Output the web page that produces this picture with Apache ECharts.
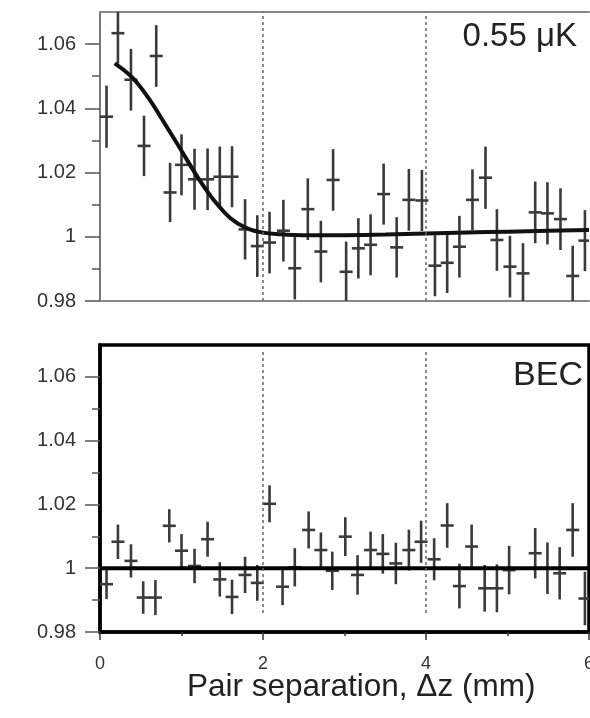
<!DOCTYPE html>
<html>
<head>
<meta charset="utf-8">
<script src="https://cdn.jsdelivr.net/npm/echarts@6/dist/echarts.min.js"></script>
<style>
  html, body { margin: 0; padding: 0; background: #fff; }
  #chart { width: 590px; height: 718px; }
</style>
</head>
<body>
<div id="chart"></div>
<script>
// top panel (0.55 uK): pair separation (mm), correlation, error
const topX = [0.08, 0.22, 0.38, 0.54, 0.69, 0.86, 1.00, 1.16, 1.32, 1.47, 1.62, 1.78, 1.93,
  2.08, 2.25, 2.39, 2.55, 2.71, 2.86, 3.02, 3.17, 3.32, 3.48, 3.64, 3.79, 3.95,
  4.11, 4.26, 4.41, 4.57, 4.73, 4.87, 5.03, 5.19, 5.34, 5.49, 5.65, 5.80, 5.95];
const topY = [1.0374, 1.0634, 1.0489, 1.0283, 1.0563, 1.0138, 1.0224, 1.0179, 1.0179, 1.0187, 1.0187, 1.0023, 0.9971,
  0.9982, 1.0019, 0.9902, 1.0086, 0.9954, 1.0177, 0.9891, 0.9964, 0.9975, 1.0133, 0.9967, 1.0115, 1.0113,
  0.9910, 0.9919, 0.9969, 1.0115, 1.0184, 0.9990, 0.9907, 0.9886, 1.0076, 1.0073, 1.0055, 0.9878, 0.9988];
const topErr = [0.0097, 0.0095, 0.0096, 0.0094, 0.0096, 0.0092, 0.0095, 0.0095, 0.0096, 0.0094, 0.0095, 0.0094, 0.0096,
  0.0096, 0.0096, 0.0097, 0.0096, 0.0096, 0.0096, 0.0094, 0.0094, 0.0095, 0.0095, 0.0094, 0.0096, 0.0095,
  0.0095, 0.0094, 0.0096, 0.0095, 0.0097, 0.0096, 0.0096, 0.0094, 0.0096, 0.0097, 0.0096, 0.0094, 0.0095];

// fitted curve, top panel
const fitX = [0.18, 0.4, 0.6, 0.8, 1.0, 1.2, 1.4, 1.6, 1.8, 2.0, 2.2, 2.5, 3.0, 3.5, 4.0, 4.5, 5.0, 5.5, 6.0];
const fitY = [1.0540, 1.0495, 1.0430, 1.0350, 1.0268, 1.0185, 1.0113, 1.0058, 1.0027, 1.0013, 1.0008, 1.0005,
  1.0005, 1.0007, 1.0010, 1.0013, 1.0016, 1.0019, 1.0021];

// bottom panel (BEC)
const becX = [0.08, 0.22, 0.38, 0.53, 0.68, 0.85, 1.00, 1.16, 1.32, 1.47, 1.62, 1.78, 1.93,
  2.08, 2.24, 2.39, 2.56, 2.71, 2.85, 3.01, 3.16, 3.32, 3.47, 3.63, 3.79, 3.94,
  4.10, 4.26, 4.41, 4.56, 4.72, 4.87, 5.02, 5.34, 5.49, 5.64, 5.80, 5.95];
const becY = [0.9950, 1.0083, 1.0023, 0.9908, 0.9908, 1.0133, 1.0055, 1.0007, 1.0091, 0.9965, 0.9910, 0.9979, 0.9954,
  1.0202, 0.9942, 1.0003, 1.0120, 1.0057, 0.9992, 1.0099, 0.9979, 1.0057, 1.0045, 1.0015, 1.0057, 1.0083,
  1.0028, 1.0134, 0.9944, 1.0068, 0.9937, 0.9937, 0.9994, 1.0047, 1.0000, 0.9984, 1.0120, 0.9905];
const becErr = [0.0047, 0.0054, 0.0052, 0.0051, 0.0055, 0.0052, 0.0052, 0.0054, 0.0055, 0.0054, 0.0054, 0.0057, 0.0056,
  0.0058, 0.0058, 0.0060, 0.0058, 0.0055, 0.0060, 0.0061, 0.0062, 0.0058, 0.0062, 0.0065, 0.0064, 0.0066,
  0.0066, 0.0070, 0.0070, 0.0069, 0.0073, 0.0075, 0.0076, 0.0079, 0.0081, 0.0082, 0.0084, 0.0084];
const becFitX = [0, 6];
const becFitY = [1, 1];

const yMajor = [0.98, 1.0, 1.02, 1.04, 1.06];
const yMinor = [0.99, 1.01, 1.03, 1.05];
const guideX = [2, 4];
const guideSpan = [0.9859, 1.0678]; // dotted guides in lower panel stop short of the frame

const FONT = '"Liberation Sans", Arial, sans-serif';
const INK = '#3a3a3a';

function zip(xs, ys, es) {
  return xs.map((x, i) => es ? [x, ys[i], es[i]] : [x, ys[i]]);
}

function renderErr(params, api) {
  const x = api.value(0), y = api.value(1), e = api.value(2);
  const c = api.coord([x, y]);
  const hi = api.coord([x, y + e]);
  const lo = api.coord([x, y - e]);
  return {
    type: 'group',
    children: [
      { type: 'line', shape: { x1: c[0], y1: hi[1], x2: c[0], y2: lo[1] }, style: { stroke: INK, lineWidth: 2.6 } },
      { type: 'line', shape: { x1: c[0] - 6.5, y1: c[1], x2: c[0] + 6.5, y2: c[1] }, style: { stroke: INK, lineWidth: 2.6 } }
    ]
  };
}

function yMajorAxis(grid, lineColor, lineWidth) {
  return {
    gridIndex: grid, type: 'value', min: 0.98, max: 1.07,
    axisLine: { show: true, lineStyle: { color: lineColor, width: lineWidth } },
    axisTick: { show: true, length: 15, customValues: yMajor, lineStyle: { color: '#555', width: 1.5 } },
    axisLabel: {
      customValues: yMajor, margin: 24, fontSize: 20, color: '#333', fontFamily: FONT,
      formatter: v => String(+(+v).toFixed(2))
    },
    splitLine: { show: false }
  };
}

function yMinorAxis(grid) {
  return {
    gridIndex: grid, type: 'value', min: 0.98, max: 1.07, position: 'left',
    axisLine: { show: false },
    axisTick: { show: true, length: 8, customValues: yMinor, lineStyle: { color: '#555', width: 1.5 } },
    axisLabel: { show: false },
    splitLine: { show: false }
  };
}

const chart = echarts.init(document.getElementById('chart'));

chart.setOption({
  animation: false,
  textStyle: { fontFamily: FONT },
  grid: [
    { left: 100, top: 12, width: 489, height: 289, show: false, outerBoundsMode: 'none' },
    {
      left: 100, top: 345, width: 489, height: 287, show: true, outerBoundsMode: 'none',
      borderColor: '#000', borderWidth: 3.5, backgroundColor: 'transparent'
    }
  ],
  xAxis: [
    {
      gridIndex: 0, type: 'value', min: 0, max: 6, interval: 2,
      axisLine: { lineStyle: { color: '#888', width: 2 } },
      axisTick: { show: false }, axisLabel: { show: false }, splitLine: { show: false }
    },
    {
      gridIndex: 0, type: 'value', position: 'top', min: 0, max: 6, interval: 2,
      axisLine: { lineStyle: { color: '#888', width: 2 } },
      axisTick: { show: false }, axisLabel: { show: false }, splitLine: { show: false }
    },
    {
      gridIndex: 1, type: 'value', min: 0, max: 6, interval: 2,
      axisLine: { lineStyle: { color: '#000', width: 3.5 } },
      axisTick: { length: 8, lineStyle: { color: '#333', width: 1.5 } },
      minorTick: { show: true, splitNumber: 2, length: 4, lineStyle: { color: '#333', width: 1.5 } },
      axisLabel: { margin: 23, fontSize: 18, color: '#333' },
      splitLine: { show: false }
    }
  ],
  yAxis: [
    yMajorAxis(0, '#777', 2),
    yMinorAxis(0),
    yMajorAxis(1, '#000', 3.5),
    yMinorAxis(1)
  ],
  graphic: [
    { type: 'text', right: 13, top: 20, style: { text: '0.55 μK', font: '33px ' + FONT, fill: '#222' } },
    { type: 'text', right: 7, top: 359, style: { text: 'BEC', font: '34px ' + FONT, fill: '#222' } },
    { type: 'text', left: 187, top: 671, style: { text: 'Pair separation, Δz (mm)', font: '31.5px ' + FONT, fill: '#222' } }
  ],
  series: [
    {
      type: 'custom', xAxisIndex: 0, yAxisIndex: 0, clip: true,
      renderItem: renderErr, data: zip(topX, topY, topErr), z: 3
    },
    {
      type: 'line', xAxisIndex: 0, yAxisIndex: 0, smooth: 0.4, showSymbol: false,
      data: zip(fitX, fitY), lineStyle: { color: '#111', width: 4 }, z: 4,
      markLine: {
        silent: true, symbol: 'none', label: { show: false },
        lineStyle: { type: [3, 3], color: '#666', width: 1.5 },
        data: guideX.map(g => ({ xAxis: g }))
      }
    },
    {
      type: 'custom', xAxisIndex: 2, yAxisIndex: 2, clip: true,
      renderItem: renderErr, data: zip(becX, becY, becErr), z: 3
    },
    {
      type: 'line', xAxisIndex: 2, yAxisIndex: 2, showSymbol: false,
      data: zip(becFitX, becFitY), lineStyle: { color: '#000', width: 4 }, z: 4,
      markLine: {
        silent: true, symbol: 'none', label: { show: false },
        lineStyle: { type: [3, 3], color: '#666', width: 1.5 },
        data: guideX.map(g => [{ coord: [g, guideSpan[1]] }, { coord: [g, guideSpan[0]] }])
      }
    }
  ]
});
</script>
</body>
</html>
